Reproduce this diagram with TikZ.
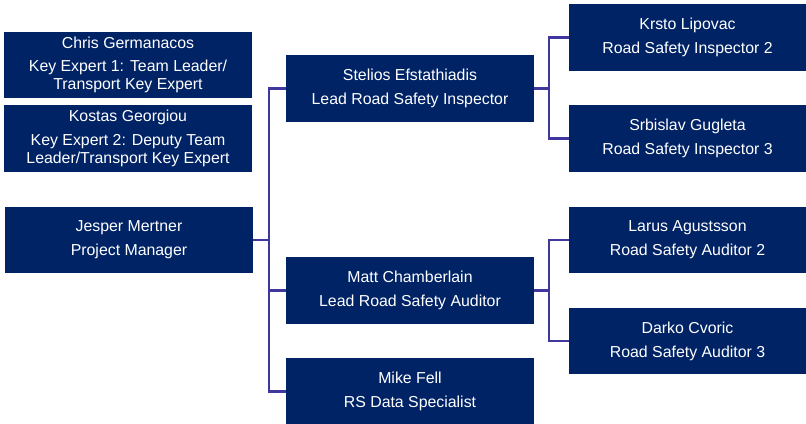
\documentclass[tikz,border=0pt]{standalone}
\usepackage{fontspec}
\setmainfont{Liberation Sans}
\usepackage{tikz}

\definecolor{boxnavy}{RGB}{0,35,102}
\definecolor{linkblue}{RGB}{62,56,158}

\begin{document}
\begin{tikzpicture}[x=0.75pt,y=-0.75pt,box/.style={rectangle,fill=boxnavy,text=white,align=center,inner sep=0pt,font=\fontsize{11.9}{13.5}\selectfont},
   person/.style={box,minimum width=186pt,minimum height=50pt},staff/.style={box,minimum width=177.75pt,minimum height=50pt},link/.style={draw=linkblue,line width=1.6pt}]
\useasboundingbox (0,0) rectangle (806,424);
\node[person] (chris) at (128,65) {Chris Germanacos\\[4pt]Key Expert 1: Team Leader/\\Transport Key Expert};
\node[person] (kostas) at (128,138.5) {Kostas Georgiou\\[4pt]Key Expert 2: Deputy Team\\Leader/Transport Key Expert};
\node[person] (jesper) at (129,240) {Jesper Mertner\\[4.5pt]Project Manager};
\node[person] (stelios) at (410,88.5) {Stelios Efstathiadis\\[4.5pt]Lead Road Safety Inspector};
\node[person] (matt) at (410,290.5) {Matt Chamberlain\\[4.5pt]Lead Road Safety Auditor};
\node[person] (mike) at (410,391.5) {Mike Fell\\[4.5pt]RS Data Specialist};
\node[staff] (krsto) at (687.5,37.5) {Krsto Lipovac\\[4.5pt]Road Safety Inspector 2};
\node[staff] (srbislav) at (687.5,138.5) {Srbislav Gugleta\\[4.5pt]Road Safety Inspector 3};
\node[staff] (larus) at (687.5,240) {Larus Agustsson\\[4.5pt]Road Safety Auditor 2};
\node[staff] (darko) at (687.5,341) {Darko Cvoric\\[4.5pt]Road Safety Auditor 3};
\foreach \t in {stelios,matt,mike} {
   \draw[link] (jesper.east) -- ++(16,0) |- (\t.west);
}
\foreach \s/\t in %
{stelios/krsto,stelios/srbislav,matt/larus,matt/darko} {
   \draw[link] (\s.east) -- ++(15,0) |- (\t.west);
}
\end{tikzpicture}
\end{document}
